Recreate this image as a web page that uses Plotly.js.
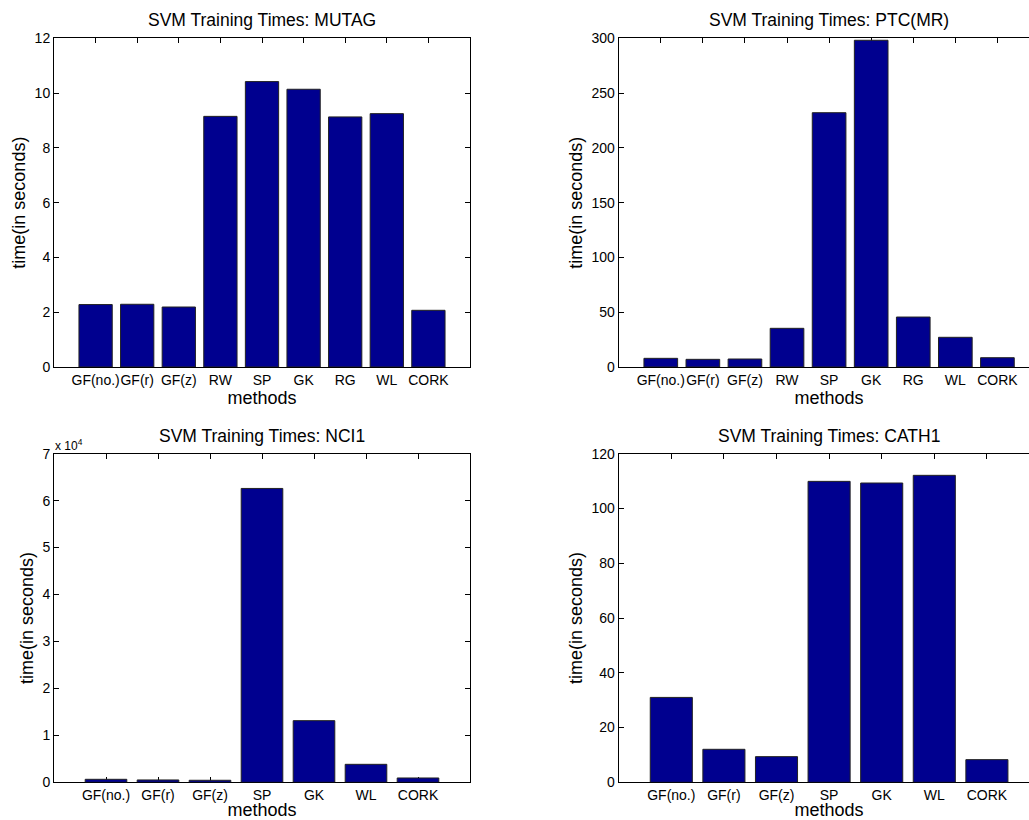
<!DOCTYPE html>
<html>
<head>
<meta charset="utf-8">
<script src="https://cdn.plot.ly/plotly-3.0.1.min.js"></script>
<style>
html,body{margin:0;padding:0;overflow:hidden;background:#fff;}
#chart{width:1045px;height:820px;}
</style>
</head>
<body>
<div id="chart"></div>
<script>
// Categories
var methods9 = ["GF(no.)", "GF(r)", "GF(z)", "RW", "SP", "GK", "RG", "WL", "CORK"];
var methods7 = ["GF(no.)", "GF(r)", "GF(z)", "SP", "GK", "WL", "CORK"];

// Training times (seconds)
var mutagTimes = [2.28, 2.29, 2.19, 9.15, 10.42, 10.14, 9.13, 9.25, 2.07];
var ptcTimes   = [7.9, 7.0, 7.3, 35.3, 232.1, 298.2, 45.6, 27.1, 8.5];
var nci1Times  = [640, 500, 430, 62600, 13130, 3830, 920];
var cath1Times = [31.0, 12.05, 9.37, 109.9, 109.3, 112.1, 8.28];

// Tick labels
var mutagTicks = [0, 2, 4, 6, 8, 10, 12];
var ptcTicks   = [0, 50, 100, 150, 200, 250, 300];
var nci1Ticks  = [0, 10000, 20000, 30000, 40000, 50000, 60000, 70000];
var nci1TickText = ["0", "1", "2", "3", "4", "5", "6", "7"];
var cath1Ticks = [0, 20, 40, 60, 80, 100, 120];

var titles = ["SVM Training Times: MUTAG", "SVM Training Times: PTC(MR)",
              "SVM Training Times: NCI1", "SVM Training Times: CATH1"];

var W = 1045, H = 820;
var FONT = "Liberation Sans, Arial, Helvetica, sans-serif";
var barColor = "#00008f";

function bar(x, y, xa, ya) {
  return {
    type: "bar", x: x, y: y, xaxis: xa, yaxis: ya,
    marker: {color: barColor, line: {color: "#222222", width: 1}},
    width: 0.8, hoverinfo: "x+y", showlegend: false
  };
}

var data = [
  bar(methods9, mutagTimes, "x", "y"),
  bar(methods9, ptcTimes, "x2", "y2"),
  bar(methods7, nci1Times, "x3", "y3"),
  bar(methods7, cath1Times, "x4", "y4")
];

function xax(dom, n, anchor) {
  return {
    domain: dom, anchor: anchor, type: "category",
    range: [-1, n], showgrid: false, zeroline: false,
    showline: true, linecolor: "#000", linewidth: 1, mirror: "ticks",
    ticks: "inside", ticklen: 5, tickcolor: "#000", tickwidth: 1,
    tickangle: 0,
    tickfont: {family: FONT, size: 14, color: "#000"},
    title: {text: "methods", font: {family: FONT, size: 18, color: "#000"}, standoff: 0},
    fixedrange: true, layer: "below traces"
  };
}
function yax(dom, range, tv, tt, anchor) {
  var a = {
    domain: dom, anchor: anchor, range: range, showgrid: false, zeroline: false,
    showline: true, linecolor: "#000", linewidth: 1, mirror: "ticks",
    ticks: "inside", ticklen: 5, tickcolor: "#000", tickwidth: 1,
    tickvals: tv, tickfont: {family: FONT, size: 14, color: "#000"},
    title: {text: "time(in seconds)", font: {family: FONT, size: 18, color: "#000"}, standoff: 4},
    fixedrange: true, layer: "below traces"
  };
  if (tt) a.ticktext = tt;
  return a;
}

var xL = [54 / W, 470 / W], xR = [618.7 / W, 1039.5 / W];
var yT = [1 - 367 / H, 1 - 38.3 / H], yB = [1 - 782.3 / H, 1 - 453.7 / H];

function titleAnn(text, xdom, ypx) {
  return {
    text: text, xref: "paper", yref: "paper",
    x: (xdom[0] + xdom[1]) / 2, y: 1 - ypx / H,
    xanchor: "center", yanchor: "middle", showarrow: false,
    font: {family: FONT, size: 17.5, color: "#000"}
  };
}

var layout = {
  width: W, height: H,
  margin: {l: 0, r: 0, t: 0, b: 0},
  paper_bgcolor: "#fff", plot_bgcolor: "#fff",
  bargap: 0.2,
  xaxis: xax(xL, 9, "y"), yaxis: yax(yT, [0, 12], mutagTicks, null, "x"),
  xaxis2: xax(xR, 9, "y2"), yaxis2: yax(yT, [0, 300], ptcTicks, null, "x2"),
  xaxis3: xax(xL, 7, "y3"), yaxis3: yax(yB, [0, 70000], nci1Ticks, nci1TickText, "x3"),
  xaxis4: xax(xR, 7, "y4"), yaxis4: yax(yB, [0, 120], cath1Ticks, null, "x4"),
  annotations: [
    titleAnn(titles[0], xL, 20),
    titleAnn(titles[1], xR, 20),
    titleAnn(titles[2], xL, 436),
    titleAnn(titles[3], xR, 436),
    {text: "x 10<sup>4</sup>", xref: "paper", yref: "paper", x: 53 / W, y: 1 - 445 / H,
     xanchor: "left", yanchor: "middle", showarrow: false,
     font: {family: FONT, size: 12, color: "#000"}}
  ]
};

Plotly.newPlot("chart", data, layout, {displayModeBar: false, staticPlot: true});
</script>
</body>
</html>
